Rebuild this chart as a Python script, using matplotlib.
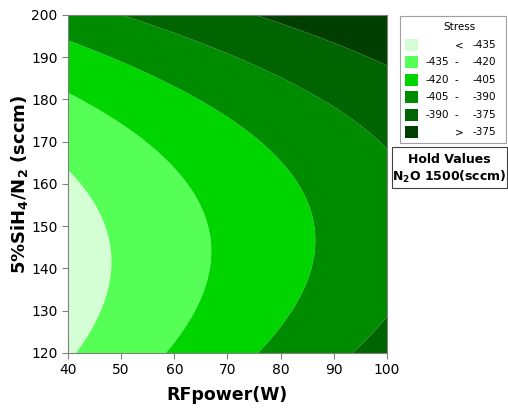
import matplotlib
matplotlib.use("Agg")
import matplotlib.pyplot as plt
from matplotlib.patches import Rectangle
import numpy as np

# fitted response surface for Stress (N2O held at 1500 sccm)
# stress = b0 + b1*P + b2*S + b3*P^2 + b4*S^2 + b5*P*S
coef = [-242.38207, 1.3612694, -3.4623255, -0.00062037901, 0.012815535, -0.0034369883]
rf_range = [40, 100]
sih4_range = [120, 200]
levels = [-1000, -435, -420, -405, -390, -375, 1000]
band_colors = ["#d4ffd4", "#55ff55", "#00d500", "#008c00", "#006400", "#003f00"]
legend_lo = ["", "-435", "-420", "-405", "-390", ""]
legend_hi = ["-435", "-420", "-405", "-390", "-375", "-375"]
legend_sym = ["<", "-", "-", "-", "-", ">"]

W, H = 508, 411
def fx(px):
    return px / W
def fy(py):
    return 1 - py / H

fig = plt.figure(figsize=(W / 100, H / 100), dpi=100)
ax = fig.add_axes([fx(68), fy(353), fx(387) - fx(68), fy(15) - fy(353)])

P, S = np.meshgrid(np.linspace(*rf_range, 300), np.linspace(*sih4_range, 300))
Z = (coef[0] + coef[1] * P + coef[2] * S + coef[3] * P**2
     + coef[4] * S**2 + coef[5] * P * S)
ax.contourf(P, S, Z, levels=levels, colors=band_colors, antialiased=True)

ax.set_xlim(rf_range)
ax.set_ylim(sih4_range)
ax.set_xticks(range(40, 101, 10))
ax.set_yticks(range(120, 201, 10))
for sp in ax.spines.values():
    sp.set_color("#808080")
ax.tick_params(colors="#808080", labelcolor="black", labelsize=10, length=4)
ax.set_xlabel("RFpower(W)", fontsize=12.5, fontweight="bold", labelpad=6)
ax.set_ylabel(r"5%SiH$_\mathbf{4}$/N$_\mathbf{2}$ (sccm)", fontsize=13,
              fontweight="bold", labelpad=1)

# legend box
fig.patches.append(Rectangle((fx(400), fy(143)), fx(506) - fx(400), fy(16) - fy(143),
                             transform=fig.transFigure, fill=False,
                             edgecolor="#a0a0a0", lw=0.8))
fig.text(fx(460), fy(27), "Stress", fontsize=7.5, ha="center", va="center")
for i, col in enumerate(band_colors):
    yc = 45 + i * 17.4
    fig.patches.append(Rectangle((fx(405), fy(yc + 6)), fx(13), fx(0) + 12 / H,
                                 transform=fig.transFigure, facecolor=col,
                                 edgecolor="none"))
    if legend_lo[i]:
        fig.text(fx(449), fy(yc), legend_lo[i], fontsize=7.5, ha="right", va="center")
    fig.text(fx(459) if legend_sym[i] != "-" else fx(456), fy(yc), legend_sym[i],
             fontsize=7.5, ha="center", va="center")
    fig.text(fx(496), fy(yc), legend_hi[i], fontsize=7.5, ha="right", va="center")

# hold values box
fig.patches.append(Rectangle((fx(392), fy(188)), fx(507) - fx(392), fy(147) - fy(188),
                             transform=fig.transFigure, fill=False,
                             edgecolor="#404040", lw=0.8))
fig.text(fx(449), fy(159), "Hold Values", fontsize=9, fontweight="bold",
         ha="center", va="center")
fig.text(fx(449), fy(177), r"N$_\mathbf{2}$O 1500(sccm)", fontsize=9,
         fontweight="bold", ha="center", va="center")

fig.savefig("out.png", dpi=100)
